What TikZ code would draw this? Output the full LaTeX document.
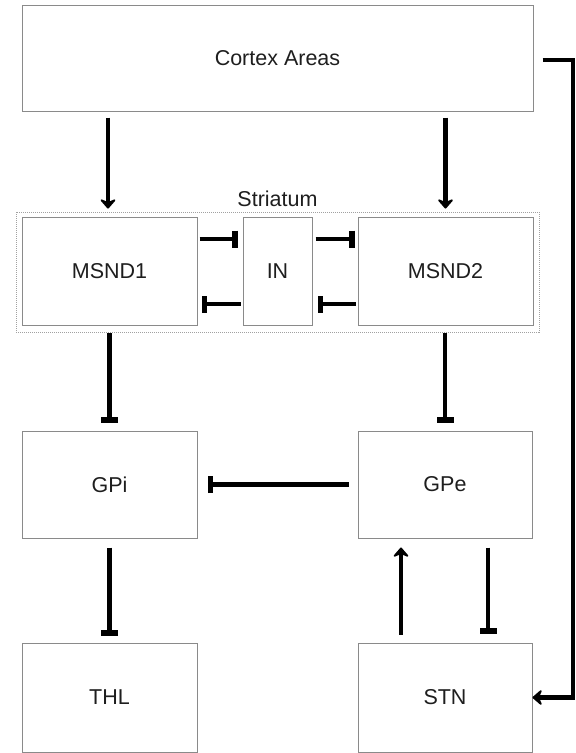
\documentclass[tikz,border=0pt]{standalone}
\usepackage{fontspec}
\setmainfont{Liberation Sans}
\usetikzlibrary{arrows.meta}
\definecolor{boxline}{HTML}{8A8A8A}
\definecolor{txt}{HTML}{1E1E1E}
\begin{document}
\begin{tikzpicture}[x=1pt,y=-1pt,
  box/.style={draw=boxline,line width=1pt,fill=white,inner sep=0pt,
    font=\fontsize{21.5}{25}\selectfont,text=txt},
  grp/.style={draw=boxline!80,line width=0.8pt,dash pattern=on 1pt off 1pt,inner sep=0pt},
  exc/.style={line width=4.5pt,-{Stealth[length=11pt,width=19pt,inset=4pt,round]}},
  inh/.style={line width=4.5pt,-{Bar[width=17pt,line width=5.5pt]}}]
\useasboundingbox (0,0) rectangle (576,753);
% nodes
\node[box,minimum width=511pt,minimum height=106pt] (cortex) at (277.5,58) {Cortex Areas};
\node[grp,minimum width=523pt,minimum height=120pt] (striatum) at (277.5,272) {};
\node[text=txt,font=\fontsize{21.5}{25}\selectfont] (stlabel) at (277.5,199) {Striatum};
\node[box,minimum width=175pt,minimum height=108pt] (msnd1) at (109.5,271) {MSND1};
\node[box,minimum width=69pt,minimum height=108pt] (in) at (277.5,271) {IN};
\node[box,minimum width=175pt,minimum height=108pt] (msnd2) at (445.5,271) {MSND2};
\node[box,minimum width=175pt,minimum height=107pt] (gpi) at (109.5,484.5) {GPi};
\node[box,minimum width=174pt,minimum height=107pt] (gpe) at (445,484.5) {GPe};
\node[box,minimum width=175pt,minimum height=109pt] (thl) at (109.5,697.5) {THL};
\node[box,minimum width=174pt,minimum height=109pt] (stn) at (445,697.5) {STN};
\coordinate (rail) at (573,697.5);
% cortex to striatum
\draw[exc] ([xshift=-1.5pt,yshift=-6pt]cortex.south -| msnd1.north) -- ([xshift=-1.5pt,yshift=3pt]striatum.north -| msnd1.north);
\draw[exc] ([yshift=-6pt]cortex.south -| msnd2.north) -- ([yshift=3pt]striatum.north -| msnd2.north);
% within striatum
\draw[inh] ([xshift=2pt,yshift=32pt]msnd1.east) -- ([xshift=-5pt,yshift=32pt]in.west);
\draw[inh] ([xshift=3pt,yshift=32pt]in.east) -- ([xshift=-3pt,yshift=32pt]msnd2.west);
\draw[inh] ([xshift=-2pt,yshift=-33pt]in.west) -- ([xshift=4pt,yshift=-33pt]msnd1.east);
\draw[inh] ([xshift=-2pt,yshift=-33pt]msnd2.west) -- ([xshift=5pt,yshift=-33pt]in.east);
% striatum to pallidum
\draw[inh] ([yshift=-1pt]striatum.south -| gpi.north) -- ([yshift=8pt]gpi.north);
\draw[inh] ([yshift=-1pt]striatum.south -| gpe.north) -- ([yshift=8pt]gpe.north);
\draw[inh] ([xshift=-9pt]gpe.west) -- ([xshift=10pt]gpi.east);
\draw[inh] ([yshift=-9pt]gpi.south) -- ([yshift=7pt]thl.north);
% GPe - STN
\draw[exc] ([xshift=-44pt,yshift=8pt]stn.north) -- ([xshift=-44pt,yshift=-9pt]gpe.south);
\draw[inh] ([xshift=43pt,yshift=-9pt]gpe.south) -- ([xshift=43pt,yshift=9pt]stn.north);
% cortex to STN
\draw[exc,line join=miter] ([xshift=9pt,yshift=-2pt]cortex.east) -| (rail) -- (stn.east);
\end{tikzpicture}
\end{document}
